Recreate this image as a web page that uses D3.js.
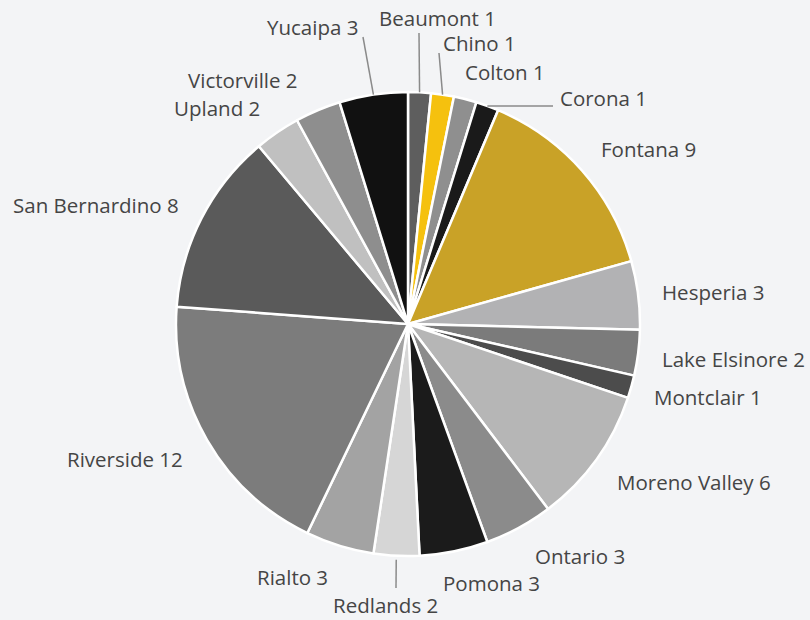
<!DOCTYPE html>
<html>
<head>
<meta charset="utf-8">
<script src="https://cdn.jsdelivr.net/npm/d3@7"></script>
<style>
  html, body { margin: 0; padding: 0; background: #f3f4f6; }
  svg { display: block; }
</style>
</head>
<body>
<svg id="chart" width="810" height="620"></svg>
<script>
// ---- data ----
const cities = ["Beaumont","Chino","Colton","Corona","Fontana","Hesperia","Lake Elsinore","Montclair",
  "Moreno Valley","Ontario","Pomona","Redlands","Rialto","Riverside","San Bernardino","Upland","Victorville","Yucaipa"];
const counts = [1,1,1,1,9,3,2,1,6,3,3,2,3,12,8,2,2,3];
const sliceColors = ["#5e5e5e","#f5c10e","#8f8f8f","#1a1a1a","#c9a227","#b2b2b4","#7b7b7b","#4c4c4c",
  "#b6b6b6","#8b8b8b","#1b1b1b","#d6d6d6","#a3a3a3","#7c7c7c","#5a5a5a","#c0c0c0","#8e8e8e","#111111"];

// ---- label layout (text anchor: start x, baseline y) ----
const labelPos = {
  "Beaumont":[379,26], "Chino":[443,51], "Colton":[465,80], "Corona":[560,106],
  "Fontana":[601,157], "Hesperia":[662,300], "Lake Elsinore":[662,367], "Montclair":[654,405],
  "Moreno Valley":[617,490], "Ontario":[535,564], "Pomona":[443,591], "Redlands":[333,613],
  "Rialto":[257,585], "Riverside":[67,467], "San Bernardino":[13,213], "Upland":[174,116],
  "Victorville":[188,88], "Yucaipa":[267,35]
};
// leader line label-side ends
const leaderEnds = {
  "Yucaipa":[363,37], "Beaumont":[419,33], "Chino":[439,53], "Corona":[553,106], "Redlands":[396,588]
};

const cx = 408, cy = 324, R = 232;
const svg = d3.select("#chart");
const data = cities.map((c,i)=>({city:c, value:counts[i], color:sliceColors[i]}));
const pie = d3.pie().value(d=>d.value).sort(null);
const arcs = pie(data);
const arc = d3.arc().innerRadius(0).outerRadius(R);

const g = svg.append("g").attr("transform",`translate(${cx},${cy})`);
g.selectAll("path").data(arcs).join("path")
  .attr("d", arc)
  .attr("fill", d=>d.data.color)
  .attr("stroke", "#ffffff")
  .attr("stroke-width", 2.5)
  .attr("stroke-linejoin","round");

// leader lines
arcs.forEach(a=>{
  const end = leaderEnds[a.data.city];
  if(!end) return;
  const mid = (a.startAngle + a.endAngle)/2;
  const isBottom = a.data.city === "Redlands";
  const r0 = isBottom ? R + 4 : R;
  const x0 = cx + r0*Math.sin(mid), y0 = cy - r0*Math.cos(mid);
  svg.append("line")
    .attr("x1", x0).attr("y1", y0).attr("x2", end[0]).attr("y2", end[1])
    .attr("stroke", "#8a8a8a").attr("stroke-width", 1.5);
});

// labels
svg.selectAll("text.lbl").data(arcs).join("text")
  .attr("class","lbl")
  .attr("x", d=>labelPos[d.data.city][0])
  .attr("y", d=>labelPos[d.data.city][1])
  .attr("font-family","'Open Sans', sans-serif")
  .attr("font-size", 20.5)
  .attr("fill","#454545")
  .text(d=>`${d.data.city} ${d.data.value}`);
</script>
</body>
</html>
